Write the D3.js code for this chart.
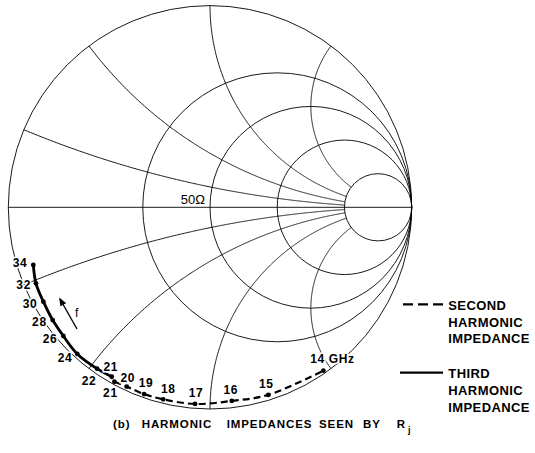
<!DOCTYPE html>
<html>
<head>
<meta charset="utf-8">
<script src="https://cdn.jsdelivr.net/npm/d3@7"></script>
<style>
  html, body { margin: 0; padding: 0; background: #fff; }
  svg { display: block; }
  text { font-family: "Liberation Sans", Arial, sans-serif; fill: #000; }
</style>
</head>
<body>
<svg id="chart" width="535" height="453"></svg>
<script>
// Smith chart grid: normalised resistance circles and reactance arcs
const resistanceCircles = [0.5, 1, 2, 5];
const reactanceArcs = [0.2, 0.5, 1, 2, -0.2, -0.5, -1, -2];
const arcStopResistance = 5; // reactance arcs end on this circle

// Third harmonic impedance (reflection coefficient, real / imaginary)
const thirdFreqs = ['34', '32', '30', '28', '26', '24', '22', '21'];
const thirdRe = [-0.876, -0.863, -0.826, -0.780, -0.727, -0.658, -0.560, -0.487];
const thirdIm = [-0.286, -0.377, -0.468, -0.559, -0.638, -0.727, -0.800, -0.840];

// Second harmonic impedance (reflection coefficient, real / imaginary)
const secondFreqs = ['21', '20', '19', '18', '17', '16', '15', '14 GHz'];
const secondRe = [-0.474, -0.413, -0.327, -0.232, -0.074, 0.108, 0.289, 0.562];
const secondIm = [-0.865, -0.889, -0.926, -0.952, -0.975, -0.960, -0.930, -0.810];

const legendItems = [
  {dash: true, lines: ['SECOND', 'HARMONIC', 'IMPEDANCE']},
  {dash: false, lines: ['THIRD', 'HARMONIC', 'IMPEDANCE']},
];
const captionWords = ['(b)', 'HARMONIC', 'IMPEDANCES', 'SEEN', 'BY', 'R'];

(function() {
  const svg = d3.select('#chart');

  // Reflection coefficient plane -> pixels
  const x = d3.scaleLinear().domain([-1, 1]).range([8.3, 411.7]);
  const y = d3.scaleLinear().domain([-1, 1]).range([409, 5.6]);

  // Gamma for a normalised impedance r + jx
  function gamma(r, xx) {
    const den = (r + 1) * (r + 1) + xx * xx;
    return {re: (r * r + xx * xx - 1) / den, im: (2 * xx) / den};
  }

  const grid = svg.append('g')
    .attr('fill', 'none')
    .attr('stroke', '#000')
    .attr('stroke-width', 0.9);

  // outer circle (r = 0)
  grid.append('circle')
    .attr('cx', x(0)).attr('cy', y(0))
    .attr('r', x(1) - x(0));

  // real axis
  grid.append('line')
    .attr('x1', x(-1)).attr('x2', x(1))
    .attr('y1', y(0)).attr('y2', y(0));

  // resistance circles
  grid.selectAll('circle.res')
    .data(resistanceCircles)
    .join('circle')
    .attr('class', 'res')
    .attr('cx', (r) => x(r / (1 + r)))
    .attr('cy', y(0))
    .attr('r', (r) => x(1 / (1 + r)) - x(0));

  // reactance arcs, traced from the rim in to the stop circle
  const arcLine = d3.line()
    .x((d) => x(d.re))
    .y((d) => y(d.im));
  const rSteps = d3.range(0, arcStopResistance + 0.001, 0.01);

  grid.selectAll('path.reac')
    .data(reactanceArcs)
    .join('path')
    .attr('class', 'reac')
    .attr('d', (xx) => arcLine(rSteps.map((r) => gamma(r, xx))));

  // 50 ohm label
  svg.append('text')
    .attr('x', 205).attr('y', 203.5)
    .attr('text-anchor', 'end')
    .attr('font-size', 13)
    .text('50\u03A9');

  // Build point lists from the arrays
  const third = thirdFreqs.map((f, i) => ({f, re: thirdRe[i], im: thirdIm[i]}));
  const second = secondFreqs.map((f, i) => ({f, re: secondRe[i], im: secondIm[i]}));

  const curve = d3.line()
    .x((d) => x(d.re))
    .y((d) => y(d.im))
    .curve(d3.curveCatmullRom);

  svg.append('path')
    .attr('d', curve(second))
    .attr('fill', 'none')
    .attr('stroke', '#000')
    .attr('stroke-width', 2.2)
    .attr('stroke-dasharray', '7,4');

  svg.append('path')
    .attr('d', curve(third))
    .attr('fill', 'none')
    .attr('stroke', '#000')
    .attr('stroke-width', 2.8);

  // markers
  svg.selectAll('circle.pt')
    .data(third.concat(second))
    .join('circle')
    .attr('class', 'pt')
    .attr('cx', (d) => x(d.re))
    .attr('cy', (d) => y(d.im))
    .attr('r', 2.4)
    .attr('fill', '#000');

  // label placement: [dx, dy, anchor] for each point, in order
  const thirdPlace = [
    [-6, 2, 'end'], [-5, 6, 'end'], [-6, 6, 'end'], [-6, 6, 'end'],
    [-6, 7, 'end'], [-5, 8, 'end'], [-8, 16, 'middle'], [-1, -6, 'middle'],
  ];
  const secondPlace = [
    [-4, 15, 'middle'], [1, -5, 'middle'], [2, -7, 'middle'], [5, -6, 'middle'],
    [1, -7, 'middle'], [-1, -7, 'middle'], [-2, -7, 'middle'], [-13, -8, 'start'],
  ];

  function labels(points, place) {
    svg.append('g')
      .selectAll('text')
      .data(points)
      .join('text')
      .attr('x', (d, i) => x(d.re) + place[i][0])
      .attr('y', (d, i) => y(d.im) + place[i][1])
      .attr('text-anchor', (d, i) => place[i][2])
      .attr('font-size', 12)
      .attr('font-weight', 'bold')
      .attr('letter-spacing', 0.6)
      .attr('stroke', '#fff')
      .attr('stroke-width', 3)
      .attr('paint-order', 'stroke')
      .text((d) => d.f);
  }
  labels(third, thirdPlace);
  labels(second, secondPlace);

  // frequency arrow
  svg.append('defs').append('marker')
    .attr('id', 'head')
    .attr('viewBox', '0 0 10 10')
    .attr('refX', 8).attr('refY', 5)
    .attr('markerWidth', 6).attr('markerHeight', 6)
    .attr('orient', 'auto')
    .append('path')
    .attr('d', 'M0,1 L10,5 L0,9 Z')
    .attr('fill', '#000');

  svg.append('line')
    .attr('x1', 77).attr('y1', 329)
    .attr('x2', 60).attr('y2', 299)
    .attr('stroke', '#000')
    .attr('stroke-width', 1.4)
    .attr('marker-end', 'url(#head)');

  svg.append('text')
    .attr('x', 75).attr('y', 317)
    .attr('font-size', 12)
    .text('f');

  // legend
  const legend = svg.append('g');
  legendItems.forEach((item, i) => {
    const top = 310 + i * 68.3;
    legend.append('line')
      .attr('x1', item.dash ? 403 : 400).attr('x2', 443)
      .attr('y1', top - 5.7).attr('y2', top - 5.7)
      .attr('stroke', '#000')
      .attr('stroke-width', item.dash ? 2.2 : 2.4)
      .attr('stroke-dasharray', item.dash ? '10,5' : null);
    item.lines.forEach((t, j) => {
      legend.append('text')
        .attr('x', 448.3)
        .attr('y', top + j * 16.7)
        .attr('font-size', 13)
        .attr('font-weight', 'bold')
        .attr('letter-spacing', 0.4)
        .text(t);
    });
  });

  // caption
  const capX = [113, 141.7, 226.7, 319, 363, 396.7];
  const caption = svg.append('g')
    .attr('font-size', 11.5)
    .attr('font-weight', 'bold');
  captionWords.forEach((w, i) => {
    caption.append('text')
      .attr('x', capX[i]).attr('y', 428)
      .attr('letter-spacing', 0.9)
      .text(w);
  });
  caption.append('text')
    .attr('x', 408).attr('y', 433)
    .attr('font-size', 9)
    .text('j');
})();
</script>
</body>
</html>
